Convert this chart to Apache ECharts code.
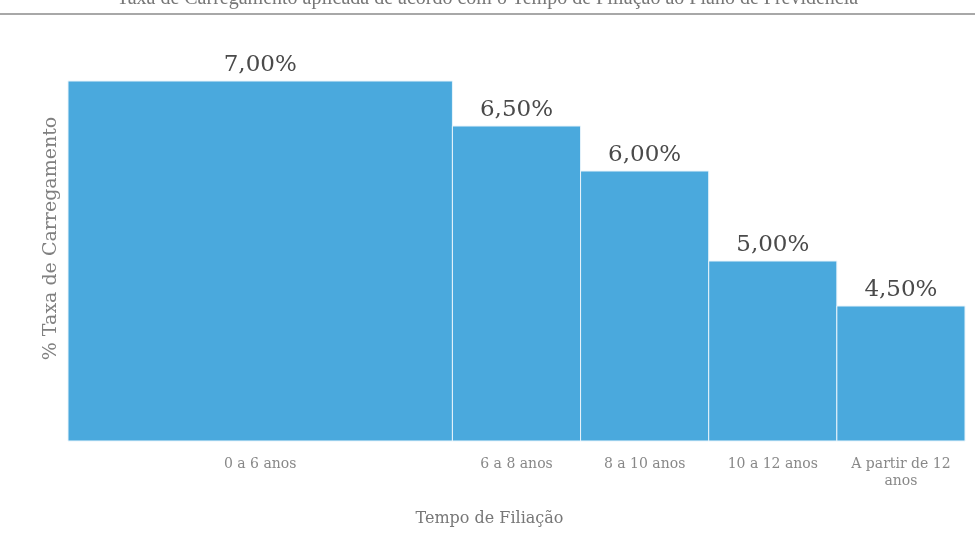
<!DOCTYPE html>
<html>
<head>
<meta charset="utf-8">
<script src="https://cdn.jsdelivr.net/npm/echarts@6/dist/echarts.min.js"></script>
<style>
  html, body { margin: 0; padding: 0; background: #fff; }
  #chart { width: 975px; height: 560px; }
</style>
</head>
<body>
<div id="chart"></div>
<script>
// Membership bands (years) and the loading rate charged in each band
const categories = ['0 a 6 anos', '6 a 8 anos', '8 a 10 anos', '10 a 12 anos', 'A partir de 12\nanos'];
const startYears = [0, 6, 8, 10, 12];
const endYears = [6, 8, 10, 12, 14];
const rates = [7.0, 6.5, 6.0, 5.0, 4.5];

const Y_MIN = 3;
const Y_MAX = 7.5;
const SERIF = '"Liberation Serif", "DejaVu Serif", serif';
const WIDE_SERIF = '"DejaVu Serif", "Liberation Serif", serif';

// Category label sits at the centre of each band
const labelAt = {};
categories.forEach((c, i) => { labelAt[(startYears[i] + endYears[i]) / 2] = c; });

const fmtPct = v => v.toFixed(2).replace('.', ',') + '%';

const seriesData = categories.map((c, i) => [startYears[i], endYears[i], rates[i]]);

function renderItem(params, api) {
  const x0 = api.value(0), x1 = api.value(1), v = api.value(2);
  const topLeft = api.coord([x0, v]);
  const bottomRight = api.coord([x1, Y_MIN]);
  return {
    type: 'rect',
    shape: {
      x: topLeft[0],
      y: topLeft[1],
      width: bottomRight[0] - topLeft[0],
      height: bottomRight[1] - topLeft[1]
    },
    style: { fill: '#4aa9dd', stroke: '#e8f4fb', lineWidth: 1 },
    textContent: {
      style: {
        text: fmtPct(v),
        fill: '#4a4a4a',
        font: '23px ' + WIDE_SERIF
      }
    },
    textConfig: { position: 'top', distance: 4 }
  };
}

const chart = echarts.init(document.getElementById('chart'), null, { renderer: 'canvas' });
chart.setOption({
  backgroundColor: '#fff',
  animation: false,
  title: {
    text: 'Taxa de Carregamento aplicada de acordo com o Tempo de Filiação ao Plano de Previdência',
    left: 'center',
    top: -16,
    textStyle: { fontFamily: SERIF, fontSize: 20, fontWeight: 'normal', color: '#777' }
  },
  graphic: [{
    type: 'line',
    shape: { x1: 0, y1: 14, x2: 975, y2: 14 },
    style: { stroke: '#a8a8a8', lineWidth: 2 }
  }],
  grid: { left: 68, right: 10, top: 36, bottom: 119 },
  xAxis: {
    type: 'value',
    min: 0,
    max: 14,
    interval: 1,
    name: 'Tempo de Filiação',
    nameLocation: 'middle',
    nameGap: 70,
    nameTextStyle: { fontFamily: WIDE_SERIF, fontSize: 16, color: '#777', padding: [0, 54, 0, 0] },
    axisLine: { show: false },
    axisTick: { show: false },
    splitLine: { show: false },
    axisLabel: {
      margin: 15,
      fontFamily: WIDE_SERIF,
      fontSize: 14,
      color: '#888',
      lineHeight: 17,
      showMinLabel: true,
      showMaxLabel: true,
      formatter: v => labelAt[v] || ''
    }
  },
  yAxis: {
    type: 'value',
    min: Y_MIN,
    max: Y_MAX,
    name: '% Taxa de Carregamento',
    nameLocation: 'middle',
    nameGap: 7,
    nameRotate: 90,
    nameTextStyle: { fontFamily: WIDE_SERIF, fontSize: 19, color: '#808080' },
    axisLine: { show: false },
    axisTick: { show: false },
    axisLabel: { show: false },
    splitLine: { show: false }
  },
  series: [{
    type: 'custom',
    renderItem: renderItem,
    encode: { x: [0, 1], y: 2 },
    data: seriesData
  }]
});
</script>
</body>
</html>
